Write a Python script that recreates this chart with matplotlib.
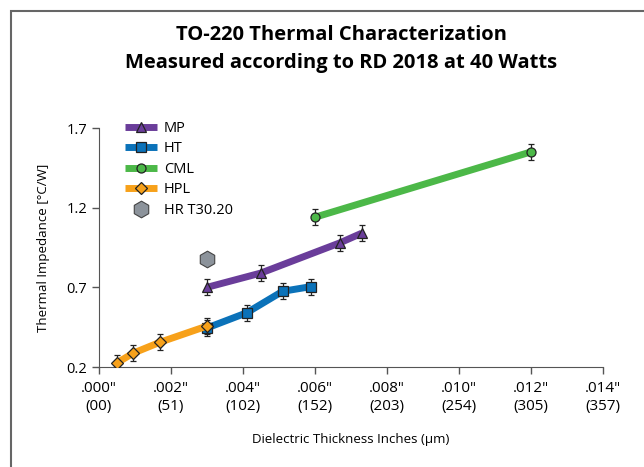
import numpy as np
import matplotlib.pyplot as plt
from matplotlib.patches import Rectangle

plt.rcParams['font.family'] = ['Open Sans', 'DejaVu Sans']

# данные
mp_x = [0.0030, 0.0045, 0.0067, 0.0073]
mp_y = [0.70, 0.79, 0.98, 1.04]
ht_x = [0.0030, 0.0041, 0.0051, 0.0059]
ht_y = [0.445, 0.54, 0.675, 0.705]
cml_x = [0.0060, 0.0120]
cml_y = [1.14, 1.55]
hpl_x = [0.0005, 0.00095, 0.0017, 0.0030]
hpl_y = [0.226, 0.287, 0.356, 0.457]
hr_x = [0.0030]
hr_y = [0.88]
err = 0.05

xticks = [0.000, 0.002, 0.004, 0.006, 0.008, 0.010, 0.012, 0.014]
xlabels = ['.000"\n(00)', '.002"\n(51)', '.004"\n(102)', '.006"\n(152)',
           '.008"\n(203)', '.010"\n(254)', '.012"\n(305)', '.014"\n(357)']
yticks = [0.2, 0.7, 1.2, 1.7]

fig = plt.figure(figsize=(6.44, 4.67), dpi=100)
ax = fig.add_axes([0.1537, 0.2141, 0.7826, 0.5118])

series = [
    ('MP', mp_x, mp_y, '#6a3d9a', '^', 6.5),
    ('HT', ht_x, ht_y, '#0b72b9', 's', 7),
    ('CML', cml_x, cml_y, '#4cb848', 'o', 6.5),
    ('HPL', hpl_x, hpl_y, '#f7a11a', 'D', 6),
]
for i, (name, x, y, c, m, ms) in enumerate(series):
    ax.errorbar(x, y, yerr=err, fmt='none', ecolor='#222222', elinewidth=0.9,
                capsize=2, capthick=0.9, zorder=2 + i)
    ax.plot(x, y, color=c, lw=5, solid_capstyle='butt', marker=m, ms=ms,
            mfc=c, mec='#222222', mew=0.9, label=name, zorder=3 + i)

ax.plot(hr_x, hr_y, ls='none', marker='h', ms=12, mfc='#8c939b',
        mec='#444444', mew=0.8, label='HR T30.20', zorder=8)

ax.set_xlim(0, 0.014)
ax.set_ylim(0.2, 1.7)
ax.set_xticks(xticks)
ax.set_xticklabels(xlabels, fontsize=11, linespacing=1.25)
ax.set_yticks(yticks)
ax.set_yticklabels([str(v) for v in yticks], fontsize=10.5)
for s in ['top', 'right']:
    ax.spines[s].set_visible(False)
for s in ['left', 'bottom']:
    ax.spines[s].set_color('#555555')
ax.tick_params(colors='#555555', labelcolor='black', length=5, width=1)
ax.tick_params(axis='x', pad=5)

ax.set_xlabel('Dielectric Thickness Inches (µm)', fontsize=9.5, labelpad=14)
ax.set_ylabel('Thermal Impedance [°C/W]', fontsize=9.5, labelpad=12)

ax.legend(loc='upper left', bbox_to_anchor=(0.025, 1.085), frameon=False,
          fontsize=10.5, handlelength=2.2, labelspacing=0.38, handletextpad=0.5)

fig.suptitle('TO-220 Thermal Characterization\nMeasured according to RD 2018 at 40 Watts',
             x=0.53, y=0.946, fontsize=14.5, fontweight='bold', linespacing=1.5)

# рамка вокруг рисунка
fig.patches.append(Rectangle((11 / 644, -0.1), 1.2, 1 - 11 / 467 + 0.1,
                             transform=fig.transFigure, fill=False,
                             ec='#666666', lw=1.5))

fig.savefig('out.png', dpi=100)
